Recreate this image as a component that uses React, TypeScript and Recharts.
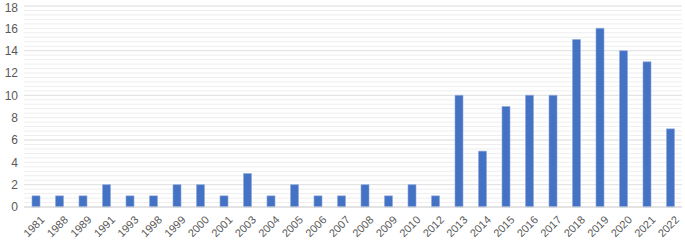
import { BarChart, Bar, XAxis, YAxis, CartesianGrid } from "recharts";

const years = [
  "1981", "1988", "1989", "1991", "1993", "1998", "1999", "2000", "2001", "2003",
  "2004", "2005", "2006", "2007", "2008", "2009", "2010", "2012", "2013", "2014",
  "2015", "2016", "2017", "2018", "2019", "2020", "2021", "2022",
];
const counts = [
  1, 1, 1, 2, 1, 1, 2, 2, 1, 3,
  1, 2, 1, 1, 2, 1, 2, 1, 10, 5,
  9, 10, 10, 15, 16, 14, 13, 7,
];
const yTicks = [0, 2, 4, 6, 8, 10, 12, 14, 16, 18];
// minor gridlines every 0.4
const minorTicks = Array.from({ length: 46 }, (_, i) => Math.round(i * 0.4 * 10) / 10);

const data = years.map((year, i) => ({ year, count: counts[i] }));

const font = "Liberation Sans, Arial, sans-serif";

// map minor values through the y axis scale
const minorLines = ({ yAxis, offset }: any) => {
  if (yAxis && typeof yAxis.scale === "function") {
    return minorTicks.map((v) => yAxis.scale(v));
  }
  return minorTicks.map((v) => offset.top + offset.height * (1 - v / 18));
};

export default function App() {
  return (
    <div style={{ position: "absolute", left: 0, top: 0, background: "#fff" }}>
      <BarChart
        width={685}
        height={241}
        data={data}
        margin={{ top: 6, right: 3, left: 0, bottom: 0 }}
        barCategoryGap={0}
      >
        <CartesianGrid
          horizontal
          vertical={false}
          stroke="#eeeeee"
          strokeWidth={1}
          horizontalCoordinatesGenerator={minorLines}
        />
        <CartesianGrid horizontal vertical={false} stroke="#e2e2e2" strokeWidth={1} />
        <XAxis
          dataKey="year"
          interval={0}
          height={34}
          tickLine={false}
          axisLine={{ stroke: "#d9d9d9" }}
          angle={-45}
          textAnchor="end"
          tickMargin={2}
          tick={{ fontSize: 11, fill: "#595959", fontFamily: font, dx: 4 }}
        />
        <YAxis
          width={24}
          domain={[0, 18]}
          ticks={yTicks}
          axisLine={false}
          tickLine={false}
          tickSize={0}
          tickMargin={6}
          tick={{ fontSize: 12, fill: "#595959", fontFamily: font }}
        />
        <Bar
          dataKey="count"
          fill="#4472C4"
          stroke="#8faadc"
          strokeWidth={0.6}
          barSize={8}
          isAnimationActive={false}
        />
      </BarChart>
    </div>
  );
}
